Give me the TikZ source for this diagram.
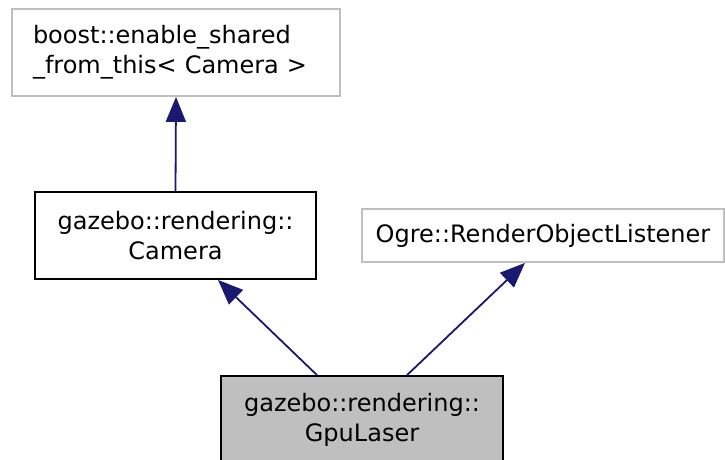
\documentclass[tikz,border=0pt]{standalone}
\usepackage{fontspec}
\setmainfont{DejaVu Sans}
\usetikzlibrary{arrows.meta,calc}
\definecolor{edgeblue}{HTML}{191970}
\definecolor{boxgray}{HTML}{BFBFBF}
\begin{document}
\begin{tikzpicture}[x=1pt,y=-1pt,
  box/.style={draw, rectangle, inner sep=0pt, line width=1.8pt, font=\fontsize{24}{30}\selectfont, align=center},
  grayline/.style={draw=boxgray},
  arr/.style={draw=edgeblue, line width=1.8pt, -{Triangle[length=25pt,width=20pt]}}]
\useasboundingbox (0,0) rectangle (725,459);
\node[box, grayline, text width=286pt, inner xsep=21pt, minimum height=87pt, align=left] (boost) at (176,52.5) {boost::enable\_shared\\\_from\_this< Camera >};
\node[box, draw=black, minimum width=281pt, minimum height=87pt] (cam) at (175.5,235.5) {gazebo::rendering::\\Camera};
\node[box, grayline, minimum width=362pt, minimum height=53pt] (ogre) at (543,235.5) {Ogre::RenderObjectListener};
\node[box, draw=black, fill=boxgray, minimum width=282pt, minimum height=87pt] (gpu) at (362,419.5) {gazebo::rendering::\\GpuLaser};
\draw[arr] (cam.north) -- (boost.south);
\draw[arr] ([xshift=-45pt]gpu.north) -- ([xshift=42.5pt]cam.south);
\draw[arr] ([xshift=45pt]gpu.north) -- ([xshift=-18pt]ogre.south);
\end{tikzpicture}
\end{document}
